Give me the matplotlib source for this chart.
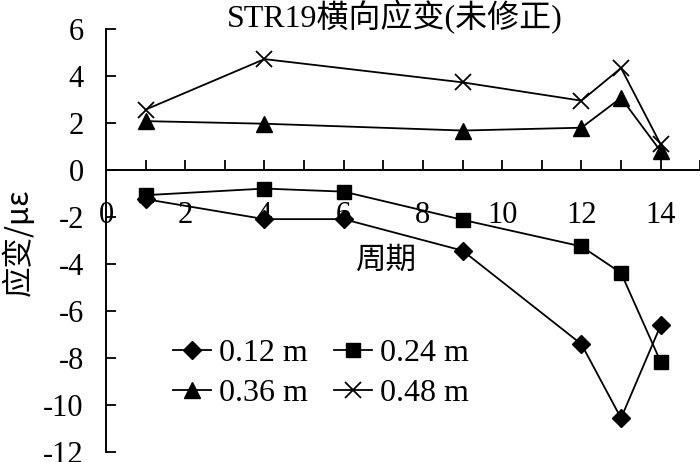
import matplotlib
matplotlib.use('Agg')
import matplotlib.pyplot as plt

plt.rcParams['font.family'] = ['Liberation Serif', 'Noto Sans CJK SC', 'DejaVu Sans']
plt.rcParams['axes.unicode_minus'] = False

# data
cycles_a = [1, 4, 6, 9, 12, 13, 14]
cycles_b = [1, 4, 9, 12, 13, 14]
d012 = [-1.24, -2.09, -2.09, -3.43, -7.41, -10.56, -6.61]
d024 = [-1.07, -0.79, -0.92, -2.12, -3.25, -4.38, -8.16]
d036 = [2.08, 1.97, 1.68, 1.80, 3.07, 0.80]
d048 = [2.57, 4.72, 3.73, 2.95, 4.34, 1.09]

fig = plt.figure(figsize=(7, 4.62), dpi=100)
ax = fig.add_axes([0.1514, 0.0216, 0.849, 0.9156])

lw = 1.3
l1, = ax.plot(cycles_a, d012, color='black', lw=lw, marker='D', ms=9.5, label='0.12 m')
l2, = ax.plot(cycles_a, d024, color='black', lw=lw, marker='s', ms=10, label='0.24 m')
l3, = ax.plot(cycles_b, d036, color='black', lw=lw, marker='^', ms=12, label='0.36 m')
l4, = ax.plot(cycles_b, d048, color='black', lw=lw, marker='x', ms=11, mew=1.3, label='0.48 m')

ax.set_xlim(0, 15)
ax.set_ylim(-12, 6)
ax.set_xticks(range(0, 15, 2))
ax.set_xticks(range(0, 16), minor=True)
ax.set_yticks(range(-12, 7, 2))

ax.spines['bottom'].set_position(('data', 0))
ax.spines['top'].set_visible(False)
ax.spines['right'].set_visible(False)
for s in ['left', 'bottom']:
    ax.spines[s].set_linewidth(1.4)

ax.tick_params(axis='x', which='both', direction='in', length=7, width=1.3, pad=22, labelsize=22)
ax.tick_params(axis='y', direction='in', length=7, width=1.3, pad=16, labelsize=22)

fig.text(0.564, 0.963, 'STR19横向应变(未修正)', fontsize=23, ha='center', va='center')
ax.text(7.07, -3.83, '周期', fontsize=22, ha='center', va='center',
        family=['Noto Sans CJK SC'])
fig.text(0.027, 0.476, '应变/με', rotation=90, fontsize=22, ha='center', va='center',
         family=['Noto Sans CJK SC', 'Liberation Serif'])

ax.legend([l1, l3, l2, l4], ['0.12 m', '0.36 m', '0.24 m', '0.48 m'],
          loc='center left', bbox_to_anchor=(0.086, 0.186), ncol=2, frameon=False,
          fontsize=23, handlelength=1.2, handletextpad=0.25, columnspacing=0.8,
          labelspacing=0.35, borderpad=0)

fig.savefig('out.png', dpi=100)
